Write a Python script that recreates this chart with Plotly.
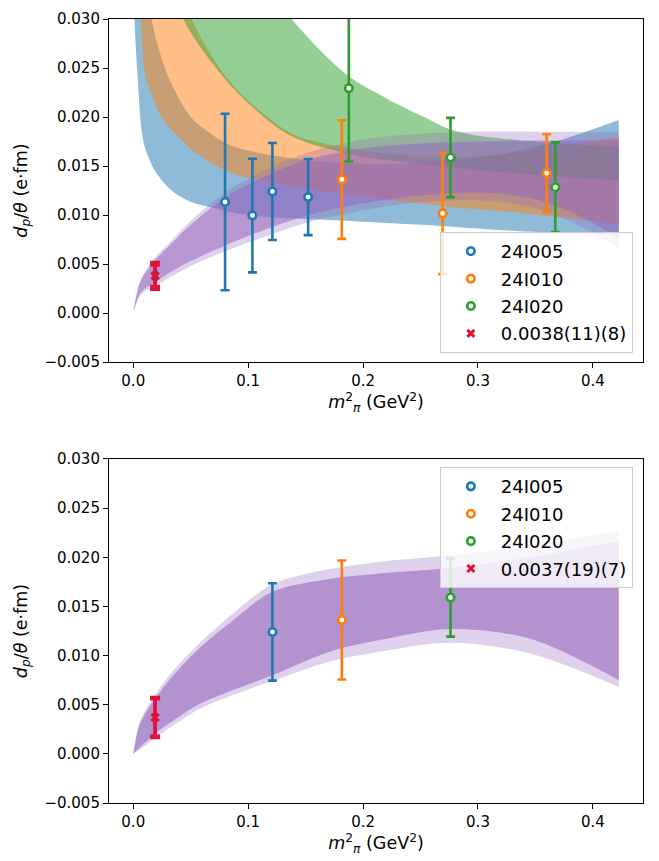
import numpy as np
import plotly.graph_objects as go

# ---------------- data ----------------
# ensemble points (m_pi^2 [GeV^2], d_p/theta [e fm], error)
x005 = [0.0799, 0.1037, 0.1211, 0.1522]
y005 = [0.01133, 0.00995, 0.01240, 0.01183]
e005 = [0.00900, 0.00580, 0.00495, 0.00388]

x010 = [0.1815, 0.2692, 0.3598]
y010 = [0.01362, 0.01015, 0.01428]
e010 = [0.00605, 0.00618, 0.00396]

x020 = [0.1876, 0.2761, 0.3673]
y020 = [0.02293, 0.01587, 0.01284]
e020 = [0.00747, 0.00404, 0.00457]

# physical point results (top, bottom)
x_phys = 0.0190
phys_val = [0.0038, 0.0037]
phys_stat = [0.0011, 0.0019]
phys_sys = [0.0008, 0.0007]
phys_labels = ["0.0038(11)(8)", "0.0037(19)(7)"]
names = ["24I005", "24I010", "24I020"]

# bottom panel: subset of points
bx005, by005, be005 = [0.1211], [0.01240], [0.00495]
bx010, by010, be010 = [0.1815], [0.01362], [0.00605]
bx020, by020, be020 = [0.2761], [0.01590], [0.00397]

# ---- top panel fit bands (edges) ----
blue_lo_x = [0.0005, 0.0010, 0.0038, 0.0073, 0.0102, 0.0190, 0.0334, 0.0509, 0.0712, 0.0886,
             0.1160, 0.1710, 0.2510, 0.3150, 0.3690, 0.4225]
blue_lo_y = [0.0360, 0.0302, 0.0241, 0.0186, 0.0169, 0.0145, 0.0125, 0.0113, 0.0107, 0.0102,
             0.0098, 0.0095, 0.0090, 0.0085, 0.0082, 0.0081]
blue_hi_x = [0.0110, 0.0160, 0.0305, 0.0500, 0.0650, 0.0850, 0.1200, 0.1700, 0.2200, 0.2700,
             0.3200, 0.3700, 0.4225]
blue_hi_y = [0.0360, 0.0300, 0.0241, 0.0200, 0.0185, 0.0171, 0.0161, 0.0154, 0.0152, 0.0155,
             0.0162, 0.0176, 0.0197]

orange_lo_x = [0.0040, 0.0067, 0.0108, 0.0247, 0.0350, 0.0550, 0.0850, 0.1200, 0.1700, 0.2200,
               0.2700, 0.3200, 0.3700, 0.4225]
orange_lo_y = [0.0370, 0.0300, 0.0241, 0.0200, 0.0185, 0.0163, 0.0143, 0.0133, 0.0124, 0.0116,
               0.0109, 0.0104, 0.0098, 0.0091]
orange_hi_x = [0.0350, 0.0509, 0.0842, 0.1190, 0.1420, 0.2000, 0.2500, 0.3000, 0.3500, 0.4225]
orange_hi_y = [0.0370, 0.0300, 0.0236, 0.0198, 0.0181, 0.0166, 0.0160, 0.0160, 0.0166, 0.0180]

green_lo_x = [0.0300, 0.0436, 0.0842, 0.1190, 0.1420, 0.1930, 0.2500, 0.3000, 0.3600, 0.4225]
green_lo_y = [0.0360, 0.0300, 0.0233, 0.0195, 0.0178, 0.0161, 0.0152, 0.0146, 0.0140, 0.0135]
green_hi_x = [0.1150, 0.1365, 0.1859, 0.2221, 0.2512, 0.2744, 0.2950, 0.3300, 0.3700, 0.4225]
green_hi_y = [0.0340, 0.0302, 0.0243, 0.0218, 0.0201, 0.0188, 0.0182, 0.0177, 0.0173, 0.0170]

pt_x = [0.0, 0.005, 0.010, 0.019, 0.030, 0.050, 0.080, 0.110, 0.150, 0.200, 0.250, 0.300,
        0.350, 0.390, 0.4225]
pt_outer_hi = [0.0, 0.0030, 0.0042, 0.0057, 0.0070, 0.0094, 0.0123, 0.0143, 0.0163, 0.0177,
               0.0183, 0.0185, 0.0185, 0.0185, 0.0185]
pt_inner_hi = [0.0, 0.0028, 0.0040, 0.0054, 0.0067, 0.0090, 0.0118, 0.0137, 0.0156, 0.0168,
               0.0173, 0.0175, 0.0176, 0.0176, 0.0177]
pt_inner_lo = [0.0, 0.0018, 0.0025, 0.0031, 0.0040, 0.0053, 0.0069, 0.0083, 0.0099, 0.0112,
               0.0120, 0.0123, 0.0116, 0.0098, 0.0076]
pt_outer_lo = [0.0, 0.0016, 0.0022, 0.0027, 0.0035, 0.0048, 0.0063, 0.0076, 0.0092, 0.0105,
               0.0113, 0.0115, 0.0107, 0.0088, 0.0065]

# ---- bottom panel fit band ----
pb_x = [0.0, 0.005, 0.010, 0.019, 0.035, 0.058, 0.087, 0.121, 0.171, 0.220, 0.276, 0.3455, 0.4225]
pb_outer_hi = [0.0, 0.0030, 0.0043, 0.0060, 0.0085, 0.0113, 0.0143, 0.01725, 0.0188, 0.0196,
               0.0202, 0.0212, 0.0227]
pb_inner_hi = [0.0, 0.0028, 0.0040, 0.0056, 0.0080, 0.0108, 0.0136, 0.0165, 0.0178, 0.0184,
               0.0189, 0.0200, 0.0216]
pb_inner_lo = [0.0, 0.0006, 0.0011, 0.0021, 0.0034, 0.0051, 0.0065, 0.0080, 0.0104, 0.0117,
               0.0127, 0.0117, 0.0075]
pb_outer_lo = [0.0, 0.0004, 0.0008, 0.0016, 0.0029, 0.0046, 0.0060, 0.0074, 0.0094, 0.0105,
               0.0113, 0.0102, 0.0068]

# ---------------- styling ----------------
BLUE, ORANGE, GREEN, PURPLE, RED = "#1f77b4", "#ff7f0e", "#2ca02c", "#9467bd", "#dc143c"
FONT = "DejaVu Sans"


def rgba(hexc, a):
    h = hexc.lstrip("#")
    r, g, b = int(h[0:2], 16), int(h[2:4], 16), int(h[4:6], 16)
    return f"rgba({r},{g},{b},{a})"


fig = go.Figure()


def band(xl, yl, xh, yh, color, alpha, xa, ya):
    fig.add_trace(go.Scatter(x=xl, y=yl, mode="lines", xaxis=xa, yaxis=ya,
                             line=dict(width=0, shape="spline", smoothing=0.9),
                             hoverinfo="skip", showlegend=False))
    fig.add_trace(go.Scatter(x=xh, y=yh, mode="lines", xaxis=xa, yaxis=ya,
                             line=dict(width=0, shape="spline", smoothing=0.9),
                             fill="tonexty", fillcolor=rgba(color, alpha),
                             hoverinfo="skip", showlegend=False))


# top panel bands
band(blue_lo_x, blue_lo_y, blue_hi_x, blue_hi_y, BLUE, 0.5, "x", "y")
band(orange_lo_x, orange_lo_y, orange_hi_x, orange_hi_y, ORANGE, 0.5, "x", "y")
band(green_lo_x, green_lo_y, green_hi_x, green_hi_y, GREEN, 0.5, "x", "y")
band(pt_x, pt_outer_lo, pt_x, pt_outer_hi, PURPLE, 0.3, "x", "y")
band(pt_x, pt_inner_lo, pt_x, pt_inner_hi, PURPLE, 0.55, "x", "y")

# bottom panel bands
band(pb_x, pb_outer_lo, pb_x, pb_outer_hi, PURPLE, 0.3, "x2", "y2")
band(pb_x, pb_inner_lo, pb_x, pb_inner_hi, PURPLE, 0.6, "x2", "y2")


def points(x, y, e, color, name, xa, ya, leg, grp):
    fig.add_trace(go.Scatter(
        x=x, y=y, mode="markers", name=name, xaxis=xa, yaxis=ya, legend=leg,
        legendgroup=grp,
        error_y=dict(type="data", array=e, color=color, thickness=2.6, width=4.5),
        marker=dict(symbol="circle", size=7.5, color="white",
                    line=dict(color=color, width=2.6))))


def phys(idx, xa, ya, leg, grp):
    tot = float(np.hypot(phys_stat[idx], phys_sys[idx]))
    fig.add_trace(go.Scatter(
        x=[x_phys], y=[phys_val[idx]], mode="markers", xaxis=xa, yaxis=ya,
        showlegend=False, hoverinfo="skip", legendgroup=grp,
        error_y=dict(type="data", array=[phys_stat[idx]], color=RED, thickness=3.5, width=5),
        marker=dict(symbol="x-thin", size=7, color=RED, line=dict(color=RED, width=3))))
    fig.add_trace(go.Scatter(
        x=[x_phys], y=[phys_val[idx]], mode="markers", name=phys_labels[idx],
        xaxis=xa, yaxis=ya, legend=leg, legendgroup=grp,
        error_y=dict(type="data", array=[tot], color=RED, thickness=3.5, width=5),
        marker=dict(symbol="x-thin", size=7, color=RED, line=dict(color=RED, width=3))))


points(x005, y005, e005, BLUE, names[0], "x", "y", "legend", "t1")
points(x010, y010, e010, ORANGE, names[1], "x", "y", "legend", "t2")
points(x020, y020, e020, GREEN, names[2], "x", "y", "legend", "t3")
phys(0, "x", "y", "legend", "t4")

points(bx005, by005, be005, BLUE, names[0], "x2", "y2", "legend2", "b1")
points(bx010, by010, be010, ORANGE, names[1], "x2", "y2", "legend2", "b2")
points(bx020, by020, be020, GREEN, names[2], "x2", "y2", "legend2", "b3")
phys(1, "x2", "y2", "legend2", "b4")

XR = [-0.0211, 0.4436]
YR = [-0.005, 0.030]
ytick = dict(tickmode="array", tickvals=[-0.005, 0.0, 0.005, 0.010, 0.015, 0.020, 0.025, 0.030],
             ticktext=["\u22120.005", "0.000", "0.005", "0.010", "0.015", "0.020", "0.025", "0.030"])
xtick = dict(tickmode="array", tickvals=[0.0, 0.1, 0.2, 0.3, 0.4],
             ticktext=["0.0", "0.1", "0.2", "0.3", "0.4"])
axcommon = dict(showline=True, linecolor="black", linewidth=1.1, mirror=True, ticks="outside",
                ticklen=5, tickwidth=1.1, tickcolor="black", showgrid=False, zeroline=False,
                tickfont=dict(family=FONT, size=15, color="black"))

xlabel = "<i>m</i><sup>2</sup><sub><i>π</i></sub> (GeV<sup>2</sup>)"
ylabel = "<i>d<sub>p</sub></i>/<i>θ</i> (e·fm)"
tfont = dict(family=FONT, size=17.5, color="black")

legcommon = dict(bgcolor="rgba(255,255,255,0.8)", bordercolor="#cccccc", borderwidth=1,
                 font=dict(family=FONT, size=18, color="black"), xanchor="right",
                 itemwidth=50, traceorder="grouped", tracegroupgap=1)

fig.update_layout(
    width=659, height=861, plot_bgcolor="white", paper_bgcolor="white",
    margin=dict(l=109, r=16, t=10, b=58),
    xaxis=dict(domain=[0, 1], anchor="y", range=XR, title=dict(text=xlabel, font=tfont, standoff=4),
               **xtick, **axcommon),
    yaxis=dict(domain=[0.5624, 1], anchor="x", range=YR, title=dict(text=ylabel, font=tfont, standoff=12),
               **ytick, **axcommon),
    xaxis2=dict(domain=[0, 1], anchor="y2", range=XR, title=dict(text=xlabel, font=tfont, standoff=4),
                **xtick, **axcommon),
    yaxis2=dict(domain=[0, 0.4388], anchor="x2", range=YR, title=dict(text=ylabel, font=tfont, standoff=12),
                **ytick, **axcommon),
    legend=dict(x=0.981, y=0.574, yanchor="bottom", **legcommon),
    legend2=dict(x=0.981, y=0.4284, yanchor="top", **legcommon),
    showlegend=True,
)

fig.write_html("out.html")
